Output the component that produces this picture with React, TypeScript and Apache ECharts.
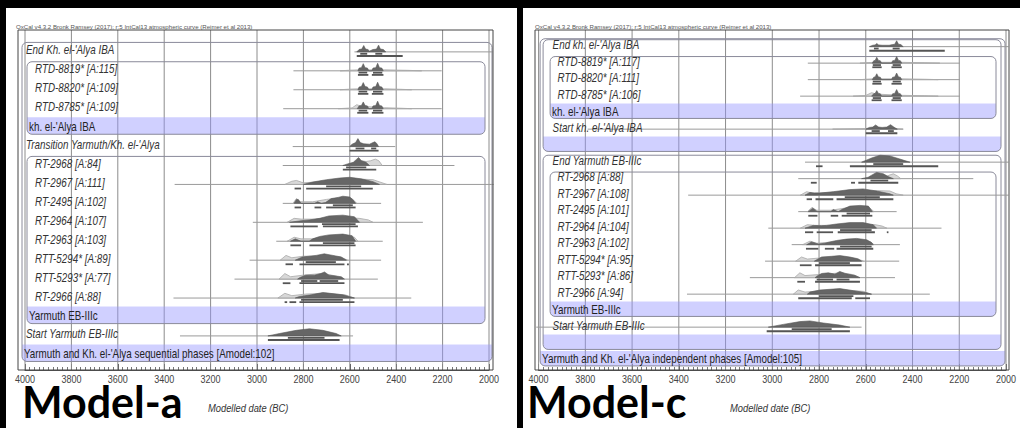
import React, { useEffect, useRef } from "react";
import * as echarts from "echarts";

const FONT = "'Liberation Sans', Arial, sans-serif";
const SX = 0.82; // horizontal compression of the reference's lettering
const TITLE = "OxCal v4.3.2 Bronk Ramsey (2017); r:5 IntCal13 atmospheric curve (Reimer et al 2013)";
const X_LABEL = "Modelled date (BC)";
const TICK_VALUES = [4000, 3800, 3600, 3400, 3200, 3000, 2800, 2600, 2400, 2200, 2000];

// ---------------- Model-a (left) ----------------
const A_LABELS = [
  "End Kh. el-'Alya IBA", "RTD-8819* [A:115]", "RTD-8820* [A:109]", "RTD-8785* [A:109]",
  "kh. el-'Alya IBA", "Transition Yarmuth/Kh. el-'Alya", "RT-2968 [A:84]", "RT-2967 [A:111]",
  "RT-2495 [A:102]", "RT-2964 [A:107]", "RT-2963 [A:103]", "RTT-5294* [A:89]",
  "RTT-5293* [A:77]", "RT-2966 [A:88]", "Yarmuth EB-IIIc", "Start Yarmuth EB-IIIc",
  "Yarmuth and Kh. el-'Alya sequential phases [Amodel:102]",
];
// boxes: [firstRow, bandRow, level]
const A_BOXES = [[0, 16, 0], [1, 4, 1], [6, 14, 1]];
const A_PRIOR = [
  [2580, 1985], [2843, 2204], [2843, 2204], [2887, 2204], null, [2846, 2404], [2889, 2149], [3355, 1980],
  [2889, 2465], [3018, 2285], [2917, 2458], [3032, 2465], [3097, 2479], [3360, 2335], null, [3332, 2586], null,
];
const A_LIKE = [
  null,
  [[2642, 0], [2600, 0.08], [2560, 0.12], [2450, 0.12], [2350, 0.06], [2290, 0]],
  [[2642, 0], [2600, 0.08], [2560, 0.12], [2450, 0.12], [2380, 0.06], [2333, 0]],
  [[2650, 0], [2590, 0.1], [2570, 0.5], [2550, 0.3], [2450, 0.12], [2380, 0.06], [2333, 0]],
  null,
  null,
  [[2600, 0], [2570, 0.5], [2550, 0.6], [2530, 0.5], [2510, 0.6], [2490, 0.8], [2475, 0.6], [2460, 0]],
  [[2880, 0], [2850, 0.4], [2830, 0.5], [2800, 0.2], [2750, 0.3], [2700, 0.5], [2600, 0.6], [2540, 0.65], [2500, 0.6], [2470, 0.3], [2440, 0]],
  [[2845, 0], [2830, 0.6], [2815, 0.2], [2760, 0.2], [2700, 0.5], [2640, 0.7], [2590, 0.6], [2570, 0]],
  [[2870, 0], [2840, 0.5], [2810, 0.4], [2750, 0.4], [2650, 0.6], [2560, 0.5], [2520, 0.3], [2500, 0]],
  [[2870, 0], [2840, 0.5], [2810, 0.3], [2760, 0.3], [2700, 0.6], [2620, 0.7], [2580, 0.5], [2565, 0]],
  [[2900, 0], [2875, 0.6], [2850, 0.3], [2800, 0.5], [2740, 0.5], [2700, 0.6], [2640, 0.4], [2610, 0]],
  [[2905, 0], [2880, 0.7], [2855, 0.3], [2800, 0.5], [2720, 0.7], [2660, 0.4], [2630, 0]],
  [[2910, 0], [2880, 0.6], [2850, 0.3], [2790, 0.5], [2700, 0.6], [2620, 0.4], [2580, 0]],
  null, null, null,
];
const A_POST = [
  [[2570, 0], [2560, 0.3], [2548, 0.35], [2540, 0.8], [2532, 0.35], [2522, 0.3], [2515, 0.1], [2500, 0.3], [2485, 0.35], [2476, 0.85], [2468, 0.35], [2455, 0.3], [2445, 0]],
  [[2565, 0], [2560, 0.35], [2550, 0.4], [2542, 0.9], [2534, 0.4], [2524, 0.35], [2518, 0], [2505, 0], [2500, 0.35], [2488, 0.4], [2480, 0.95], [2472, 0.4], [2462, 0.35], [2456, 0]],
  [[2565, 0], [2560, 0.35], [2550, 0.4], [2542, 0.9], [2534, 0.4], [2524, 0.35], [2518, 0], [2505, 0], [2500, 0.35], [2488, 0.4], [2480, 0.95], [2472, 0.4], [2462, 0.35], [2456, 0]],
  [[2568, 0], [2560, 0.35], [2550, 0.4], [2542, 0.85], [2534, 0.4], [2524, 0.35], [2518, 0], [2505, 0], [2500, 0.35], [2488, 0.4], [2480, 0.95], [2472, 0.4], [2462, 0.35], [2456, 0]],
  null,
  [[2601, 0], [2590, 0.3], [2575, 0.5], [2565, 1.0], [2555, 0.5], [2540, 0.35], [2515, 0.3], [2500, 0.5], [2492, 0.6], [2484, 0.4], [2476, 0]],
  [[2630, 0], [2610, 0.2], [2585, 0.4], [2570, 0.8], [2562, 1.0], [2550, 0.6], [2530, 0.4], [2515, 0]],
  [[2800, 0], [2760, 0.3], [2700, 0.6], [2645, 0.8], [2600, 0.9], [2550, 0.7], [2500, 0.35], [2472, 0]],
  [[2840, 0], [2830, 0.5], [2822, 0.5], [2810, 0], [2752, 0], [2738, 0.2], [2723, 0], [2705, 0.1], [2680, 0.6], [2650, 0.75], [2630, 0.9], [2600, 0.8], [2585, 0.4], [2575, 0]],
  [[2860, 0], [2810, 0.2], [2775, 0.3], [2730, 0.5], [2690, 0.8], [2630, 0.9], [2580, 0.7], [2558, 0]],
  [[2856, 0], [2835, 0.3], [2810, 0], [2775, 0], [2760, 0.3], [2730, 0.6], [2690, 0.8], [2630, 0.9], [2590, 0.7], [2575, 0]],
  [[2835, 0], [2805, 0.4], [2745, 0.6], [2710, 0.8], [2673, 0.6], [2637, 0.4], [2615, 0]],
  [[2825, 0], [2815, 0.2], [2790, 0.5], [2752, 0.5], [2725, 0.7], [2709, 0.9], [2690, 0.5], [2637, 0.3], [2623, 0]],
  [[2835, 0], [2817, 0.2], [2767, 0.4], [2716, 0.7], [2687, 0.6], [2630, 0.4], [2580, 0]],
  null,
  [[2953, 0], [2903, 0.3], [2831, 0.7], [2774, 0.9], [2716, 0.7], [2659, 0.3], [2637, 0]],
  null,
];
const A_R68 = [
  [[2555, 2525], [2490, 2460]], [[2562, 2525], [2500, 2460]], [[2562, 2525], [2500, 2460]], [[2562, 2525], [2500, 2460]], null,
  [[2575, 2537], [2508, 2486]], [[2616, 2529]], [[2702, 2551]], [[2673, 2587]], [[2720, 2575]], [[2716, 2580]],
  [[2790, 2660]], [[2810, 2740], [2730, 2650]], [[2810, 2630]], null, [[2867, 2709]], null,
];
const A_R95 = [
  [[2570, 2372]], [[2565, 2520], [2505, 2455]], [[2565, 2520], [2505, 2455]], [[2568, 2520], [2505, 2455]], null,
  [[2601, 2476]], [[2630, 2486]], [[2838, 2810], [2788, 2501]], [[2838, 2810], [2752, 2723], [2702, 2575]],
  [[2856, 2738], [2716, 2565]], [[2856, 2810], [2774, 2575]], [[2877, 2845], [2817, 2623], [2612, 2604]],
  [[2889, 2856], [2817, 2623]], [[2881, 2870], [2860, 2831], [2817, 2580]], null, [[2953, 2644]], null,
];

// ---------------- Model-c (right) ----------------
const C_LABELS = [
  "End kh. el-'Alya IBA", "RTD-8819* [A:117]", "RTD-8820* [A:111]", "RTD-8785* [A:106]",
  "kh. el-'Alya IBA", "Start kh. el-'Alya IBA", "", "End Yarmuth EB-IIIc",
  "RT-2968 [A:88]", "RT-2967 [A:108]", "RT-2495 [A:101]", "RT-2964 [A:104]",
  "RT-2963 [A:102]", "RTT-5294* [A:95]", "RTT-5293* [A:86]", "RT-2966 [A:94]",
  "Yarmuth EB-IIIc", "Start Yarmuth EB-IIIc", "",
  "Yarmuth and Kh. el-'Alya independent phases [Amodel:105]",
];
const C_BOXES = [[0, 19, 0], [0, 6, 1], [1, 4, 2], [7, 18, 1], [8, 16, 2]];
const C_PRIOR = [
  [2582, 1990], [2848, 2197], [2848, 2197], [2881, 2197], null, [3790, 2440], null, [2860, 1990],
  [2889, 2140], [3360, 1990], [2889, 2468], [3017, 2276], [2917, 2454], [3031, 2457], [3096, 2475], [3365, 2326],
  null, [4010, 2618], null, null,
];
const C_LIKE = [
  null,
  [[2625, 0], [2590, 0.08], [2560, 0.12], [2450, 0.12], [2350, 0.06], [2283, 0]],
  [[2625, 0], [2590, 0.08], [2560, 0.12], [2450, 0.12], [2350, 0.06], [2290, 0]],
  [[2654, 0], [2600, 0.1], [2575, 0.5], [2555, 0.3], [2450, 0.12], [2350, 0.06], [2290, 0]],
  null,
  [[2742, 0], [2650, 0.06], [2560, 0.12], [2480, 0.1], [2440, 0]],
  null,
  null,
  [[2530, 0], [2500, 0.5], [2482, 0.7], [2465, 0.4], [2450, 0]],
  [[2880, 0], [2853, 0.5], [2830, 0.3], [2750, 0.4], [2650, 0.6], [2550, 0.65], [2497, 0.6], [2470, 0.2], [2440, 0]],
  [[2850, 0], [2830, 0.6], [2810, 0.2], [2750, 0.2], [2690, 0.5], [2630, 0.7], [2585, 0.6], [2565, 0]],
  [[2880, 0], [2850, 0.5], [2820, 0.4], [2750, 0.4], [2650, 0.6], [2560, 0.5], [2530, 0.3], [2510, 0]],
  [[2870, 0], [2839, 0.5], [2810, 0.2], [2700, 0.5], [2620, 0.7], [2580, 0.4], [2565, 0]],
  [[2900, 0], [2875, 0.6], [2850, 0.3], [2780, 0.5], [2700, 0.6], [2640, 0.4], [2610, 0]],
  [[2905, 0], [2882, 0.7], [2860, 0.3], [2780, 0.5], [2700, 0.7], [2650, 0.4], [2625, 0]],
  [[2910, 0], [2889, 0.6], [2860, 0.3], [2780, 0.5], [2690, 0.6], [2610, 0.4], [2580, 0]],
  null, null, null, null,
];
const C_POST = [
  [[2585, 0], [2570, 0.2], [2560, 0.25], [2553, 0.45], [2545, 0.25], [2530, 0.2], [2500, 0.2], [2485, 0.3], [2476, 0.35], [2468, 0.85], [2460, 0.35], [2450, 0.3], [2440, 0]],
  [[2572, 0], [2566, 0.35], [2560, 0.4], [2553, 0.85], [2546, 0.4], [2538, 0.35], [2532, 0], [2490, 0], [2485, 0.35], [2476, 0.4], [2468, 0.95], [2460, 0.4], [2452, 0.35], [2446, 0]],
  [[2572, 0], [2566, 0.35], [2560, 0.4], [2553, 0.85], [2546, 0.4], [2538, 0.35], [2532, 0], [2490, 0], [2485, 0.35], [2476, 0.4], [2468, 0.95], [2460, 0.4], [2452, 0.35], [2446, 0]],
  [[2575, 0], [2566, 0.35], [2560, 0.4], [2553, 0.8], [2546, 0.4], [2538, 0.35], [2532, 0], [2490, 0], [2485, 0.35], [2476, 0.4], [2468, 0.95], [2460, 0.4], [2452, 0.35], [2446, 0]],
  null,
  [[2600, 0], [2585, 0.25], [2570, 0.3], [2558, 0.6], [2545, 0.3], [2530, 0.25], [2510, 0.3], [2494, 0.65], [2480, 0.3], [2465, 0]],
  null,
  [[2618, 0], [2575, 0.6], [2539, 1.0], [2497, 0.9], [2440, 0.3], [2411, 0]],
  [[2618, 0], [2590, 0.2], [2575, 0.5], [2554, 0.9], [2525, 0.7], [2504, 0.3], [2482, 0]],
  [[2860, 0], [2839, 0.4], [2820, 0.3], [2796, 0.3], [2739, 0.5], [2668, 0.8], [2611, 0.9], [2554, 0.6], [2497, 0.2], [2482, 0]],
  [[2846, 0], [2827, 0.5], [2807, 0], [2750, 0], [2739, 0.3], [2718, 0], [2703, 0.3], [2668, 0.8], [2625, 0.9], [2589, 0.8], [2572, 0]],
  [[2860, 0], [2825, 0.4], [2790, 0.35], [2768, 0.4], [2725, 0.6], [2668, 0.8], [2611, 0.8], [2568, 0.5], [2554, 0]],
  [[2853, 0], [2832, 0.4], [2803, 0.1], [2775, 0.2], [2753, 0.4], [2725, 0.6], [2682, 0.8], [2639, 0.9], [2596, 0.7], [2575, 0.3], [2568, 0]],
  [[2820, 0], [2810, 0.2], [2789, 0.6], [2746, 0.7], [2711, 0.8], [2668, 0.6], [2632, 0.3], [2618, 0]],
  [[2817, 0], [2810, 0.2], [2789, 0.6], [2760, 0.7], [2732, 0.5], [2711, 0.9], [2689, 0.6], [2646, 0.3], [2625, 0]],
  [[2850, 0], [2839, 0.3], [2796, 0.6], [2753, 0.7], [2711, 0.8], [2653, 0.5], [2596, 0.2], [2575, 0]],
  null,
  [[3017, 0], [2953, 0.4], [2882, 0.8], [2839, 0.9], [2782, 0.6], [2711, 0.3], [2668, 0]],
  null, null,
];
const C_R68 = [
  [[2565, 2545], [2485, 2455]], [[2570, 2535], [2485, 2450]], [[2570, 2535], [2485, 2450]], [[2570, 2535], [2485, 2450]], null,
  [[2575, 2540], [2505, 2480]], null, [[2568, 2440]], [[2580, 2504]], [[2690, 2540]], [[2682, 2582]], [[2710, 2575]],
  [[2710, 2575]], [[2800, 2668]], [[2810, 2740], [2725, 2670]], [[2800, 2653]], null, [[2917, 2746]], null, null,
];
const C_R95 = [
  [[2585, 2262]], [[2572, 2532], [2490, 2446]], [[2572, 2532], [2490, 2446]], [[2575, 2532], [2490, 2446]], null,
  [[2600, 2465]], null, [[2813, 2785], [2668, 2290]], [[2835, 2810], [2663, 2646], [2632, 2461]],
  [[2853, 2830], [2815, 2739], [2725, 2482]], [[2846, 2807], [2750, 2718], [2703, 2572]],
  [[2860, 2825], [2810, 2740], [2720, 2561], [2510, 2503]], [[2856, 2803], [2775, 2735], [2725, 2568]],
  [[2882, 2832], [2817, 2618]], [[2893, 2860], [2817, 2625]], [[2889, 2660], [2645, 2582]], null,
  [[3024, 2668]], null, null,
];

const PANELS = [
  {
    labels: A_LABELS, boxes: A_BOXES, prior: A_PRIOR, like: A_LIKE, post: A_POST, r68: A_R68, r95: A_R95,
    grid: { left: 25, top: 30, width: 464, height: 340 }, yMin: -1.056, yMax: 16.9,
    labelX: { 1: 1, 2: 10 }, insets: { 0: [-3, 3], 1: [2, -4] }, topOff: { 0: 0.4, 1: 0.38 },
    frame: [18, 30, 475, 340], titleX: 16, model: "Model-a", modelX: 22, xlabX: 208,
  },
  {
    labels: C_LABELS, boxes: C_BOXES, prior: C_PRIOR, like: C_LIKE, post: C_POST, r68: C_R68, r95: C_R95,
    grid: { left: 538.6, top: 30, width: 467.4, height: 340 }, yMin: -0.909, yMax: 19.697,
    labelX: { 2: 14, 3: 19 }, insets: { 0: [1.5, -1], 1: [4.5, -5], 2: [11.5, -10] }, topOff: { 0: 0.38, 1: 0.32, 2: 0.3 },
    frame: [535, 30, 474, 340], titleX: 535, model: "Model-c", modelX: 527, xlabX: 730,
  },
];

function depthOf(boxes: number[][], i: number) {
  let d = 0;
  for (const b of boxes) if (b[0] <= i && i < b[1]) d++;
  return d;
}
function isBand(boxes: number[][], i: number) {
  return boxes.some((b) => b[1] === i);
}

function buildOption() {
  const grids: any[] = [], xAxes: any[] = [], yAxes: any[] = [], series: any[] = [], graphics: any[] = [];
  PANELS.forEach((p, pi) => {
    grids.push({ ...p.grid, containLabel: false });
    xAxes.push({
      type: "value", gridIndex: pi, min: 2000, max: 4000, interval: 200, inverse: true, position: "bottom",
      axisLine: { show: true, onZero: false, lineStyle: { color: "#555", width: 1 } },
      axisTick: { show: true, inside: true, length: 6, lineStyle: { color: "#555" } },
      minorTick: { show: true, splitNumber: 10, length: 3, lineStyle: { color: "#777" } },
      splitLine: { show: false },
      axisLabel: { show: false },
    });
    yAxes.push({ type: "value", gridIndex: pi, min: p.yMin, max: p.yMax, inverse: true, show: false });

    // vertical grid lines and tick labels at the tick values
    series.push({
      type: "custom", xAxisIndex: pi, yAxisIndex: pi, clip: false, z: 1,
      data: TICK_VALUES.map((v) => [v, 0]),
      renderItem: (params: any, api: any) => {
        const cs = params.coordSys;
        const v = TICK_VALUES[params.dataIndex];
        const x = api.coord([v, 0])[0];
        return {
          type: "group",
          children: [
            { type: "line", shape: { x1: x, y1: cs.y, x2: x, y2: cs.y + cs.height }, style: { stroke: "#8c8c8c", lineWidth: 1 } },
            { type: "text", x, y: cs.y + cs.height + 9, scaleX: SX,
              style: { text: String(v), fontSize: 11, fontFamily: FONT, fill: "#444", align: "center", verticalAlign: "middle" } },
          ],
        };
      },
    });

    // boxes + bands
    series.push({
      type: "custom", xAxisIndex: pi, yAxisIndex: pi, clip: false, z: 2,
      data: p.boxes.map((b, k) => [3000, b[0], k]),
      renderItem: (params: any, api: any) => {
        const b = p.boxes[params.dataIndex];
        const cs = params.coordSys;
        const rowH = api.size([0, 1])[1];
        const ins = (p.insets as any)[b[2]];
        const x0 = cs.x + ins[0];
        const x1 = cs.x + cs.width + ins[1];
        const top = api.coord([3000, b[0]])[1] - rowH * (p.topOff as any)[b[2]];
        const yb = api.coord([3000, b[1]])[1];
        const bandTop = yb - rowH * 0.45;
        const bottom = yb + rowH * 0.45;
        return {
          type: "group",
          children: [
            { type: "rect", shape: { x: x0, y: bandTop, width: x1 - x0, height: bottom - bandTop, r: [0, 0, 5, 5] },
              style: { fill: "rgba(150,150,255,0.45)", stroke: null } },
            { type: "rect", shape: { x: x0, y: top, width: x1 - x0, height: bottom - top, r: 5 },
              style: { fill: "none", stroke: "#8a8a9a", lineWidth: 1 } },
            { type: "text", x: x0 + 2, y: yb + 0.5, scaleX: SX,
              style: { text: p.labels[b[1]], fontSize: 12, fontFamily: FONT, fill: "#222", verticalAlign: "middle" } },
          ],
        };
      },
    });

    // rows
    series.push({
      type: "custom", xAxisIndex: pi, yAxisIndex: pi, clip: false, z: 3,
      data: p.labels.map((_, i) => [3000, i]),
      renderItem: (params: any, api: any) => {
        const i = params.dataIndex;
        if (isBand(p.boxes, i)) return null;
        const cs = params.coordSys;
        const rowH = api.size([0, 1])[1];
        const yc = api.coord([3000, i])[1];
        const base = yc + rowH * 0.1;
        const hmax = rowH * 0.42;
        const X = (yr: number) => api.coord([yr, i])[0];
        const ch: any[] = [];
        const pr = p.prior[i];
        if (pr) ch.push({ type: "line", shape: { x1: X(pr[0]), y1: base, x2: X(pr[1]), y2: base }, style: { stroke: "#9a9a9a", lineWidth: 1 } });
        const lk = p.like[i];
        if (lk) ch.push({ type: "polygon", shape: { points: lk.map(([yr, h]: number[]) => [X(yr), base - h * hmax]) },
          style: { fill: "rgba(200,200,200,0.7)", stroke: "#a8a8a8", lineWidth: 0.8 } });
        const po = p.post[i];
        if (po) ch.push({ type: "polygon", shape: { points: po.map(([yr, h]: number[]) => [X(yr), base - h * hmax]) },
          style: { fill: "#666", stroke: "#585858", lineWidth: 0.6 } });
        (p.r68[i] || []).forEach((r: number[]) => ch.push({ type: "rect", shape: { x: X(r[0]), y: base + 1, width: X(r[1]) - X(r[0]), height: 1.8 }, style: { fill: "#555" } }));
        (p.r95[i] || []).forEach((r: number[]) => ch.push({ type: "rect", shape: { x: X(r[0]), y: base + 3.2, width: X(r[1]) - X(r[0]), height: 1.8 }, style: { fill: "#555" } }));
        const d = depthOf(p.boxes, i);
        ch.push({ type: "text", x: cs.x + (p.labelX as any)[d], y: yc, scaleX: SX,
          style: { text: p.labels[i], fontSize: 12, fontStyle: "italic", fontFamily: FONT, fill: "#333", verticalAlign: "middle" } });
        return { type: "group", children: ch };
      },
    });

    const [fx, fy, fw, fh] = p.frame;
    graphics.push({ type: "rect", shape: { x: fx, y: fy, width: fw, height: fh }, style: { fill: "none", stroke: "#444", lineWidth: 1 }, z: 10 });
    graphics.push({ type: "text", x: p.titleX, y: 26, style: { text: TITLE, fontSize: 6.1, fontFamily: FONT, fill: "#555", verticalAlign: "middle" } });
    graphics.push({ type: "text", x: p.modelX, y: 423, style: { text: p.model, fontSize: 43, fontWeight: "bold", fontFamily: "Lato, 'Open Sans', sans-serif", fill: "#000", verticalAlign: "bottom" } });
    graphics.push({ type: "text", x: p.xlabX, y: 408, scaleX: 0.85, style: { text: X_LABEL, fontSize: 11, fontStyle: "italic", fontFamily: FONT, fill: "#333", verticalAlign: "middle" } });
  });
  // black borders
  graphics.push({ type: "rect", shape: { x: 0, y: 0, width: 1020, height: 8 }, style: { fill: "#000" }, z: 20 });
  graphics.push({ type: "rect", shape: { x: 0, y: 0, width: 6, height: 428 }, style: { fill: "#000" }, z: 20 });
  graphics.push({ type: "rect", shape: { x: 517, y: 0, width: 6, height: 428 }, style: { fill: "#000" }, z: 20 });

  return { animation: false, backgroundColor: "#fff", grid: grids, xAxis: xAxes, yAxis: yAxes, series, graphic: graphics };
}

export default function App() {
  const ref = useRef<HTMLDivElement>(null);
  useEffect(() => {
    if (!ref.current) return;
    const chart = echarts.init(ref.current, undefined, { renderer: "svg" });
    chart.setOption(buildOption() as any);
    return () => chart.dispose();
  }, []);
  return <div ref={ref} style={{ position: "absolute", left: 0, top: 0, width: 1020, height: 428 }} />;
}
